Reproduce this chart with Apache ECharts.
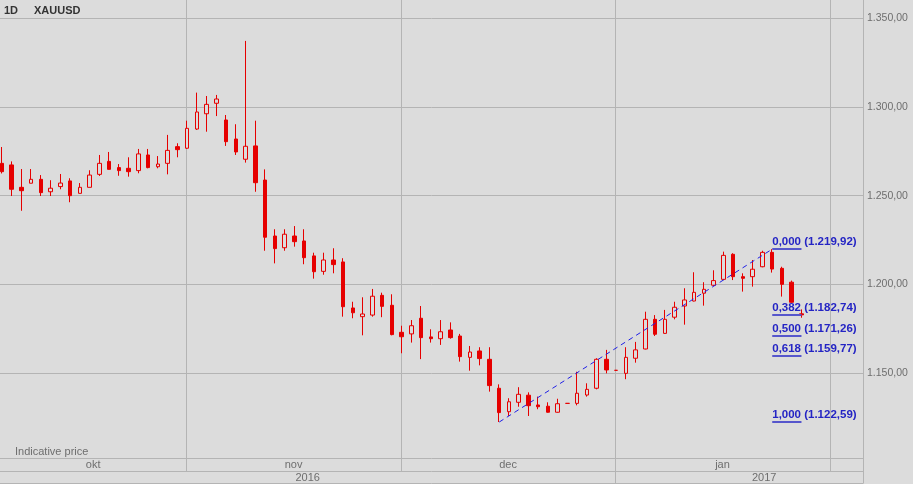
<!DOCTYPE html>
<html><head><meta charset="utf-8">
<script src="https://cdn.jsdelivr.net/npm/echarts@6/dist/echarts.min.js"></script>
<style>html,body{margin:0;padding:0;background:#dcdcdc}#c{width:913px;height:484px}</style>
</head><body><div id="c"></div>
<script>
// ---- data ----
const dates = [
 '2016-10-05','2016-10-06','2016-10-07','2016-10-10','2016-10-11','2016-10-12','2016-10-13','2016-10-14',
 '2016-10-17','2016-10-18','2016-10-19','2016-10-20','2016-10-21','2016-10-24','2016-10-25','2016-10-26',
 '2016-10-27','2016-10-28','2016-10-31',
 '2016-11-01','2016-11-02','2016-11-03','2016-11-04','2016-11-07','2016-11-08','2016-11-09','2016-11-10',
 '2016-11-11','2016-11-14','2016-11-15','2016-11-16','2016-11-17','2016-11-18','2016-11-21','2016-11-22',
 '2016-11-23','2016-11-24','2016-11-25','2016-11-28','2016-11-29','2016-11-30',
 '2016-12-01','2016-12-02','2016-12-05','2016-12-06','2016-12-07','2016-12-08','2016-12-09','2016-12-12',
 '2016-12-13','2016-12-14','2016-12-15','2016-12-16','2016-12-19','2016-12-20','2016-12-21','2016-12-22',
 '2016-12-23','2016-12-26','2016-12-27','2016-12-28','2016-12-29','2016-12-30',
 '2017-01-02','2017-01-03','2017-01-04','2017-01-05','2017-01-06','2017-01-09','2017-01-10','2017-01-11',
 '2017-01-12','2017-01-13','2017-01-16','2017-01-17','2017-01-18','2017-01-19','2017-01-20','2017-01-23',
 '2017-01-24','2017-01-25','2017-01-26','2017-01-27',
 // future trading days (no data yet)
 '2017-01-30','2017-01-31','2017-02-01','2017-02-02','2017-02-03','2017-02-06'
];
const opens = [
 1268.2,1267.3,1254.7,1257.0,1259.2,1252.2,1255.1,1258.3,1251.3,1254.7,1262.0,1269.3,1265.8,1265.4,1264.1,1272.9,
 1266.3,1268.2,1277.6,
 1276.7,1287.5,1296.1,1302.0,1292.6,1281.9,1270.5,1278.0,1258.8,1227.3,1220.7,1227.3,1224.5,1216.1,1207.4,1213.8,
 1212.7,1186.8,1181.9,1182.8,1193.9,1188.3,
 1173.1,1172.2,1181.0,1170.5,1169.5,1174.4,1171.0,1159.0,1162.6,1157.9,1141.6,1128.4,1133.7,1137.7,1132.2,1131.5,
 1128.1,1133.1,1133.1,1137.8,1141.6,1157.9,
 1151.7,1150.0,1158.5,1163.7,1180.4,1172.5,1181.6,1187.9,1190.7,1195.1,1199.6,1202.9,1217.0,1204.4,1204.4,1210.0,
 1218.1,1209.1,1201.3,1183.5
];
const closes = [
 1263.5,1253.6,1252.8,1259.2,1251.7,1254.2,1257.1,1250.0,1254.7,1261.6,1268.2,1264.8,1264.1,1263.5,1273.5,1265.8,
 1267.8,1275.5,1275.9,
 1287.9,1297.1,1301.4,1304.4,1280.4,1274.6,1277.8,1257.3,1226.6,1220.2,1228.3,1224.1,1215.1,1207.2,1213.8,1211.2,
 1187.5,1184.1,1183.4,1193.4,1187.7,1171.8,
 1170.6,1176.8,1170.1,1169.5,1173.4,1170.1,1159.4,1162.0,1158.3,1143.1,1127.9,1134.0,1138.2,1131.8,1131.2,1128.1,
 1132.9,1133.1,1138.8,1141.0,1157.9,1151.9,
 1151.7,1159.0,1163.2,1180.4,1172.0,1180.4,1187.2,1191.3,1195.6,1197.3,1202.2,1216.4,1204.4,1203.5,1208.6,1218.1,
 1208.7,1200.1,1190.0,1182.9
];
const lows = [
 1262.5,1249.8,1241.5,1257.0,1249.8,1249.8,1253.6,1246.3,1251.3,1254.7,1261.1,1264.8,1261.2,1260.7,1262.6,1265.4,
 1265.4,1262.0,1271.6,
 1276.3,1287.0,1286.0,1294.8,1278.0,1272.9,1268.6,1252.2,1219.0,1211.9,1219.0,1221.3,1211.4,1203.3,1205.5,1206.3,
 1181.9,1181.0,1171.4,1181.9,1181.6,1171.4,
 1161.3,1167.3,1158.0,1167.3,1166.0,1169.5,1156.6,1151.5,1154.5,1139.7,1122.6,1126.0,1131.2,1126.0,1129.8,1127.9,
 1127.9,1133.1,1132.0,1136.9,1141.0,1150.0,
 1151.7,1146.7,1156.0,1163.5,1171.0,1172.3,1180.4,1177.4,1190.5,1188.1,1199.2,1202.5,1202.5,1196.0,1198.8,1209.7,
 1206.7,1193.2,1189.8,1181.3
];
const highs = [
 1277.4,1269.3,1265.0,1265.0,1261.6,1258.7,1262.2,1259.8,1257.1,1264.3,1272.9,1274.6,1267.8,1271.6,1276.3,1276.3,
 1272.3,1284.2,1279.5,
 1292.2,1308.0,1306.1,1306.7,1295.4,1290.2,1337.1,1292.2,1264.8,1231.1,1231.1,1232.9,1231.1,1217.9,1217.9,1220.4,
 1214.8,1190.3,1192.8,1197.5,1195.4,1194.5,
 1176.8,1180.0,1187.9,1174.8,1180.0,1178.7,1172.2,1165.4,1164.7,1164.7,1143.8,1136.0,1142.2,1139.3,1136.9,1133.7,
 1135.7,1133.1,1150.9,1144.4,1158.5,1163.2,
 1151.7,1164.7,1167.7,1184.7,1182.8,1185.7,1190.3,1197.9,1206.9,1201.3,1208.0,1218.5,1217.6,1206.3,1213.8,1219.0,
 1219.9,1210.0,1202.2,1186.0
];
const monthLabels = ['okt','nov','dec','jan'];
const yearLabels = ['2016','2017'];
const fibRatios = ['0,000','0,382','0,500','0,618','1,000'];
const fibPrices = [1219.92, 1182.74, 1171.26, 1159.77, 1122.59];
const trendFrom = '2016-12-15', trendTo = '2017-01-24', fibEndDate = '2017-01-27';

// ---- layout ----
const W = 913, PLOT_W = 863;
const X_MIN = -0.205, X_MAX = 88.31;
const Y_MIN = 1102.35, Y_MAX = 1360.13;
const RED = '#e60000', BG = '#dcdcdc', GRID = '#b4b4b4', TXT = '#6e6e6e';
const FONT = 'Liberation Sans, Arial, sans-serif';

// month boundaries from the dates
const monthStarts = [];
for (let i = 1; i < dates.length; i++) if (dates[i].slice(5,7) !== dates[i-1].slice(5,7)) monthStarts.push(i - 0.1);
const yearStarts = [];
for (let i = 1; i < dates.length; i++) if (dates[i].slice(0,4) !== dates[i-1].slice(0,4)) yearStarts.push(i - 0.1);
const edges = [X_MIN].concat(monthStarts);
const monthCenters = monthLabels.map((_, k) => (edges[k] + edges[k+1]) / 2);
const fullRight = X_MIN + (W / PLOT_W) * (X_MAX - X_MIN);
const yEdges = [X_MIN].concat(yearStarts, [fullRight]);
const yearCenters = yearLabels.map((_, k) => (yEdges[k] + yEdges[k+1]) / 2);

function pickLabel(vals, labels) {
  return v => { for (let k = 0; k < vals.length; k++) if (Math.abs(vals[k] - v) < 1e-6) return labels[k]; return ''; };
}
function fmtPrice(v, dec) {
  const s = v.toFixed(dec).split('.');
  const ip = s[0].replace(/\B(?=(\d{3})+(?!\d))/g, '.');
  return ip + ',' + s[1];
}

const candleData = opens.map((o, i) => [i, o, closes[i], lows[i], highs[i]]);
const iFrom = dates.indexOf(trendFrom), iTo = dates.indexOf(trendTo), iEnd = dates.indexOf(fibEndDate);

const fibLines = fibPrices.map((p, k) => [
  { coord: [iTo, p], label: { formatter: fibRatios[k] + ' (' + fmtPrice(p, 2) + ')' } },
  { coord: [iEnd, p] }
]);

const noLine = { show: true, onZero: false, lineStyle: { color: GRID } };

const chart = echarts.init(document.getElementById('c'), null, { renderer: 'canvas' });
chart.setOption({
  animation: false,
  backgroundColor: BG,
  textStyle: { fontFamily: FONT },
  title: [
    { text: '1D', left: 4, top: 5, padding: 0, textStyle: { fontSize: 11, fontWeight: 'bold', color: '#333', fontFamily: FONT } },
    { text: 'XAUUSD', left: 34, top: 5, padding: 0, textStyle: { fontSize: 11, fontWeight: 'bold', color: '#333', fontFamily: FONT } }
  ],
  graphic: [
    { type: 'text', left: 15, top: 446, style: { text: 'Indicative price', font: '11px ' + FONT, fill: TXT } }
  ],
  grid: [
    { left: 0, top: 0, width: PLOT_W, height: 458 },
    { left: 0, top: 458, width: PLOT_W, height: 13 },
    { left: 0, top: 471, width: PLOT_W, height: 12 }
  ],
  xAxis: [
    { gridIndex: 0, type: 'value', min: X_MIN, max: X_MAX,
      axisLine: { show: false, onZero: false }, axisLabel: { show: false },
      axisTick: { show: false, customValues: monthStarts },
      splitLine: { show: true, lineStyle: { color: GRID, width: 1 } } },
    { gridIndex: 1, type: 'value', position: 'top', min: X_MIN, max: X_MAX,
      axisLine: noLine,
      axisTick: { show: false, customValues: monthStarts },
      axisLabel: { show: true, inside: true, margin: 1, customValues: monthCenters,
        formatter: pickLabel(monthCenters, monthLabels), color: TXT, fontSize: 11, fontFamily: FONT },
      splitLine: { show: true, lineStyle: { color: GRID } } },
    { gridIndex: 2, type: 'value', position: 'top', min: X_MIN, max: X_MAX,
      axisLine: noLine,
      axisTick: { show: false, customValues: yearStarts },
      axisLabel: { show: true, inside: true, margin: 1, customValues: yearCenters,
        formatter: pickLabel(yearCenters, yearLabels), color: TXT, fontSize: 11, fontFamily: FONT },
      splitLine: { show: true, lineStyle: { color: GRID } } },
    { gridIndex: 2, type: 'value', position: 'bottom', min: X_MIN, max: X_MAX,
      axisLine: noLine,
      axisTick: { show: false }, axisLabel: { show: false }, splitLine: { show: false } }
  ],
  yAxis: [
    { gridIndex: 0, type: 'value', position: 'right', min: Y_MIN, max: Y_MAX, minInterval: 50, maxInterval: 50,
      axisLine: noLine, axisTick: { show: false },
      axisLabel: { show: true, margin: 4, showMinLabel: false, showMaxLabel: false,
        formatter: v => fmtPrice(v, 2), color: TXT, fontSize: 10.5, fontFamily: FONT },
      splitLine: { show: true, showMinLine: false, showMaxLine: false, lineStyle: { color: GRID } } },
    { gridIndex: 1, type: 'value', position: 'right', min: 0, max: 1,
      axisLine: noLine, axisTick: { show: false }, axisLabel: { show: false }, splitLine: { show: false } },
    { gridIndex: 2, type: 'value', position: 'right', min: 0, max: 1,
      axisLine: noLine, axisTick: { show: false }, axisLabel: { show: false }, splitLine: { show: false } }
  ],
  series: [{
    type: 'candlestick',
    xAxisIndex: 0, yAxisIndex: 0,
    dimensions: ['idx', 'open', 'close', 'lowest', 'highest'],
    encode: { x: 0, y: [1, 2, 3, 4] },
    data: candleData,
    barWidth: 4,
    itemStyle: { color: BG, color0: RED, borderColor: RED, borderColor0: RED, borderColorDoji: RED, borderWidth: 1 },
    markLine: {
      silent: true, symbol: 'none', animation: false,
      data: [
        [ { coord: [iFrom, fibPrices[fibPrices.length - 1]], lineStyle: { color: '#2020e6', width: 1, type: [5, 4] }, label: { show: false } },
          { coord: [iTo, fibPrices[0]] } ]
      ].concat(fibLines),
      lineStyle: { color: '#5656cc', width: 2, type: 'solid' },
      label: { show: true, position: 'insideStartTop', distance: [0, 1], color: '#2424c4',
        fontWeight: 'bold', fontSize: 11.5, fontFamily: FONT }
    }
  }]
});
</script></body></html>
